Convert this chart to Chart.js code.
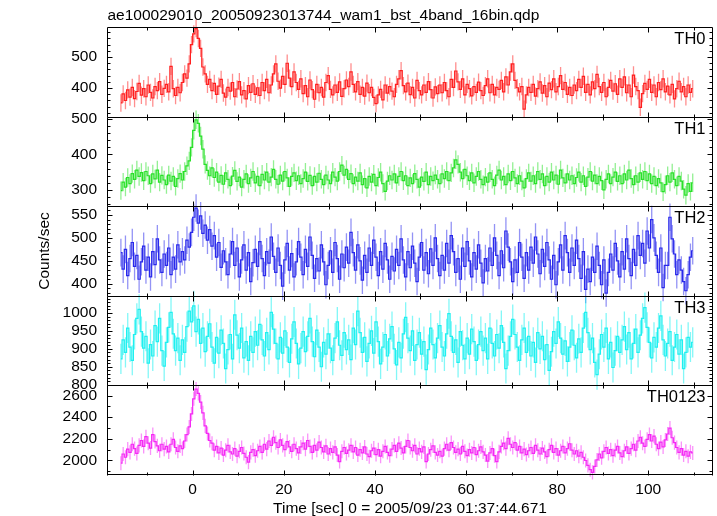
<!DOCTYPE html>
<html>
<head>
<meta charset="utf-8">
<script src="https://cdn.jsdelivr.net/npm/chart.js@4.4.1/dist/chart.umd.min.js"></script>
<style>
  body { margin: 0; background: #fff; }
</style>
</head>
<body>
<canvas id="grafico" width="717" height="516"></canvas>
<script>
// Curva de luz WAM (4 bandas + soma), bins de 0.5 s
const titulo = 'ae100029010_20050923013744_wam1_bst_4band_16bin.qdp';
const tituloX = 'Time [sec] 0 = 2005/09/23 01:37:44.671';
const tituloY = 'Counts/sec';
const nomes = ['TH0', 'TH1', 'TH2', 'TH3', 'TH0123'];

// centro do primeiro bin e largura do bin (s)
const tempoInicio = -15.75;
const larguraBin = 0.5;

const th0 = [
  352, 381, 360, 394, 371, 402, 366, 389, 415, 377, 398, 372, 410, 386, 368, 405, 392, 421, 380, 399,
  412, 388, 470, 398, 376, 402, 385, 418, 446, 432, 478, 540, 575, 592, 560, 528, 468, 446, 412, 428,
  392, 415, 380, 406, 428, 384, 371, 402, 390, 418, 372, 397, 421, 378, 392, 365, 408, 386, 414, 380,
  401, 376, 418, 392, 428, 385, 410, 446, 478, 422, 400, 438, 412, 480, 432, 405, 452, 418, 396, 430,
  382, 408, 372, 426, 395, 364, 412, 385, 402, 371, 418, 440, 396, 378, 410, 386, 420, 373, 398, 426,
  405, 452, 412, 388, 421, 380, 402, 374, 416, 385, 402, 370, 350, 378, 396, 362, 410, 384, 405, 390,
  372, 412, 430, 456, 408, 388, 416, 379, 402, 368, 425, 392, 378, 410, 386, 421, 395, 368, 404, 382,
  410, 385, 418, 392, 372, 428, 402, 455, 420, 396, 430, 378, 412, 398, 375, 405, 386, 419, 392, 376,
  408, 430, 385, 412, 378, 402, 396, 425, 388, 436, 410, 452, 478, 425, 401, 388, 405, 332, 378, 402,
  386, 412, 374, 398, 420, 384, 408, 372, 416, 395, 430, 388, 405, 440, 396, 418, 380, 402, 376, 410,
  392, 428, 402, 438, 386, 412, 378, 420, 398, 444, 405, 386, 418, 372, 402, 425, 390, 414, 380, 430,
  402, 436, 385, 410, 372, 442, 405, 392, 338, 382, 415, 396, 428, 386, 410, 372, 418, 395, 430, 388,
  406, 378, 412, 365, 398, 422, 388, 405, 372, 410, 386, 398
];
const th1 = [
  298, 322, 308, 335, 318, 346, 330, 356, 338, 349, 326, 352, 340, 318, 345, 331, 356, 322, 341, 328,
  315, 342, 325, 338, 310, 332, 346, 328, 352, 368, 382, 420, 468, 498, 488, 452, 415, 372, 355, 340,
  362, 335, 350, 322, 341, 316, 348, 330, 312, 339, 355, 324, 336, 308, 330, 345, 318, 334, 352, 320,
  338, 312, 344, 328, 350, 322, 336, 358, 330, 316, 342, 325, 352, 334, 310, 338, 348, 326, 340, 318,
  332, 350, 324, 341, 312, 338, 322, 347, 330, 315, 342, 328, 318, 350, 336, 325, 352, 370, 342, 358,
  330, 346, 318, 336, 325, 348, 315, 332, 306, 338, 322, 344, 312, 335, 350, 318, 296, 325, 340, 328,
  345, 320, 338, 352, 326, 340, 312, 334, 318, 346, 330, 308, 336, 324, 350, 315, 338, 326, 342, 330,
  318, 345, 332, 352, 326, 348, 362, 385, 372, 350, 332, 358, 340, 326, 348, 320, 338, 352, 330, 315,
  336, 322, 348, 330, 312, 342, 356, 328, 338, 315, 345, 326, 352, 334, 318, 340, 325, 306, 332, 348,
  325, 340, 318, 352, 330, 345, 312, 338, 322, 350, 328, 342, 316, 356, 334, 320, 345, 328, 340, 318,
  335, 350, 322, 340, 310, 336, 352, 325, 342, 318, 338, 326, 300, 330, 345, 318, 336, 350, 324, 340,
  318, 345, 328, 356, 332, 315, 340, 322, 348, 330, 352, 326, 345, 318, 338, 312, 332, 320, 295, 315,
  340, 322, 348, 330, 312, 338, 325, 302, 285, 318, 296, 320
];
const th2 = [
  468, 432, 475, 418, 455, 490, 438, 462, 410, 448, 482, 430, 458, 415, 470, 442, 498, 452, 425, 465,
  440, 478, 420, 458, 432, 485, 448, 470, 452, 495, 480, 512, 545, 565, 532, 548, 510, 528, 495, 518,
  482, 505, 458, 490, 436, 472, 448, 420, 465, 492, 440, 478, 415, 452, 485, 430, 468, 405, 446, 475,
  438, 492, 455, 418, 470, 445, 502, 460, 425, 478, 440, 395, 452, 488, 430, 466, 415, 448, 492, 458,
  420, 475, 438, 502, 462, 412, 455, 428, 485, 448, 398, 440, 472, 425, 490, 455, 410, 465, 435, 480,
  445, 512, 468, 430, 485, 450, 408, 462, 425, 478, 440, 495, 458, 418, 470, 432, 488, 452, 410, 460,
  428, 475, 440, 498, 452, 415, 470, 435, 482, 445, 405, 458, 490, 430, 468, 422, 476, 440, 500, 455,
  418, 462, 430, 488, 445, 505, 470, 425, 455, 410, 478, 438, 492, 450, 415, 468, 432, 485, 445, 402,
  455, 428, 478, 440, 500, 462, 418, 472, 435, 515, 480, 448, 405, 452, 425, 490, 458, 412, 468, 430,
  480, 445, 502, 465, 422, 475, 438, 490, 452, 410, 462, 398, 448, 485, 430, 505, 468, 425, 478, 440,
  495, 455, 412, 470, 388, 432, 405, 458, 425, 482, 440, 398, 452, 380, 425, 465, 430, 488, 450, 415,
  470, 432, 498, 455, 418, 475, 440, 505, 462, 488, 445, 515, 478, 540, 500, 462, 425, 478, 392, 440,
  440, 545, 498, 465, 420, 452, 430, 405, 385, 420, 458, 472
];
const th3 = [
  872, 925, 890, 958, 905, 868, 940, 985, 1010, 948, 902, 935, 860, 912, 880, 965, 920, 985, 895, 852,
  918, 960, 1002, 942, 895, 930, 868, 925, 890, 962, 1005, 975, 1020, 948, 982, 915, 958, 892, 935, 970,
  905, 860, 932, 888, 952, 915, 845, 898, 940, 872, 995, 938, 902, 958, 875, 920, 868, 935, 890, 948,
  910, 968, 925, 880, 945, 898, 1002, 955, 915, 872, 932, 888, 950, 905, 862, 928, 975, 915, 858, 902,
  948, 892, 935, 985, 920, 878, 952, 905, 850, 918, 885, 942, 902, 868, 930, 975, 910, 882, 945, 898,
  925, 870, 958, 912, 1005, 945, 890, 932, 865, 915, 950, 888, 975, 920, 858, 905, 940, 880, 928, 962,
  900, 855, 918, 875, 942, 988, 930, 895, 950, 868, 912, 945, 885, 920, 842, 898, 958, 912, 875, 930,
  965, 905, 880, 942, 998, 935, 890, 925, 862, 948, 910, 872, 930, 885, 955, 920, 868, 912, 948, 895,
  930, 872, 958, 915, 880, 940, 902, 965, 918, 845, 895, 935, 982, 940, 905, 868, 925, 958, 890, 935,
  880, 918, 862, 945, 900, 935, 870, 912, 840, 892, 948, 915, 975, 930, 885, 922, 865, 905, 952, 910,
  875, 928, 890, 958, 1002, 945, 898, 930, 862, 828, 885, 940, 905, 958, 872, 918, 848, 895, 935, 890,
  925, 962, 898, 945, 872, 915, 955, 890, 938, 985, 1015, 960, 918, 875, 932, 905, 958, 992, 925, 880,
  915, 948, 868, 905, 940, 885, 925, 845, 890, 932, 905, 918
];
const th0123 = [
  1975, 2060, 2030, 2105, 2075, 2150, 2110, 2065, 2140, 2185, 2130, 2220, 2160, 2115, 2240, 2175, 2135, 2090, 2150, 2105,
  2130, 2080, 2150, 2195, 2120, 2085, 2135, 2110, 2180, 2240, 2310, 2430, 2570, 2660, 2620, 2540, 2440, 2320, 2250, 2185,
  2160, 2095, 2130, 2070, 2115, 2050, 2095, 2140, 2080, 2060, 2110, 2040, 2085, 2120, 2065, 2030, 1985, 2075, 2100, 2045,
  2090, 2130, 2075, 2150, 2105, 2180, 2140, 2215, 2165, 2120, 2190, 2140, 2100, 2175, 2125, 2085, 2150, 2110, 2070, 2125,
  2160, 2105, 2185, 2130, 2075, 2140, 2095, 2170, 2120, 2080, 2135, 2060, 2110, 2075, 2125, 2050, 1990, 2085, 2120, 2065,
  2095, 2140, 2080, 2120, 2050, 2100, 2070, 2125, 2060, 2035, 2090, 2115, 2055, 2100, 2040, 2085, 2130, 2075, 2045, 2105,
  2140, 2085, 2160, 2115, 2070, 2130, 2185, 2120, 2090, 2140, 2060, 2110, 2080, 2125, 1990, 2060, 2100, 2135, 2075, 2050,
  2085, 2040, 2110, 2150, 2095, 2165, 2120, 2075, 2105, 2060, 2130, 2085, 2045, 2100, 2070, 2120, 2055, 2090, 2125, 2080,
  2050, 1995, 2070, 2110, 2045, 1990, 2080, 2130, 2160, 2110, 2205, 2150, 2120, 2165, 2095, 2130, 2070, 2105, 2055, 2090,
  2120, 2065, 2140, 2095, 2060, 2115, 2080, 2035, 2100, 2140, 2075, 2110, 2050, 2090, 2130, 2070, 2110, 2155, 2095, 2060,
  2090, 2040, 2075, 2030, 2000, 1955, 1915, 1890, 1945, 2005, 2060, 2025, 2085, 2120, 2065, 2100, 2045, 2095, 2130, 2070,
  2035, 2090, 2125, 2065, 2110, 2150, 2095, 2180, 2215, 2160, 2130, 2195, 2240, 2180, 2225, 2150, 2110, 2170, 2125, 2190,
  2245, 2300, 2210, 2165, 2120, 2075, 2110, 2050, 2085, 2040, 2080, 2070
];
const series = [th0, th1, th2, th3, th0123];

// barras de erro (counts/sec) de cada banda
const erros = [28, 26, 30, 42, 65];

// marcas dos eixos
const ticksX = [0, 20, 40, 60, 80, 100];
const ticksY = [
  [400, 500],
  [300, 400, 500],
  [400, 450, 500, 550],
  [800, 850, 900, 950, 1000],
  [2000, 2200, 2400, 2600]
];

const limitesY = [[308, 597], [254, 507], [374, 569], [798, 1048], [1866, 2694]];
const menoresY = [20, 20, 10, 10, 100];
const cores = ['rgb(255,30,30)', 'rgb(40,225,40)', 'rgb(40,40,235)', 'rgb(30,240,240)', 'rgb(245,40,245)'];
const coresErro = ['rgba(255,30,30,0.5)', 'rgba(40,225,40,0.5)', 'rgba(40,40,235,0.5)', 'rgba(30,240,240,0.55)', 'rgba(245,40,245,0.5)'];
const fonte = '"Liberation Sans", Arial, Helvetica, sans-serif';

const conjuntos = nomes.map((nome, i) => ({
  label: nome,
  data: series[i].map((v, k) => ({ x: tempoInicio + k * larguraBin, y: v })),
  yAxisID: 'y' + i,
  borderColor: cores[i],
  borderWidth: 1.2,
  stepped: 'middle',
  pointRadius: 0,
  clip: false
}));

// eixos y empilhados (o último declarado fica em cima)
const escalas = {
  x: {
    type: 'linear',
    min: -18.8,
    max: 114.2,
    afterBuildTicks: s => { s.ticks = ticksX.map(v => ({ value: v })); },
    afterFit: s => { s.height = 41; },
    ticks: { color: '#000', font: { family: fonte, size: 15.5 }, padding: 5, maxRotation: 0, autoSkip: false, callback: v => String(v) },
    grid: { display: false, drawTicks: false },
    border: { display: false },
    title: { display: true, text: tituloX, color: '#000', font: { family: fonte, size: 15.5, lineHeight: 1 }, padding: 0 }
  }
};
for (let i = nomes.length - 1; i >= 0; i--) {
  escalas['y' + i] = {
    type: 'linear',
    position: 'left',
    stack: 'paineis',
    stackWeight: 1,
    min: limitesY[i][0],
    max: limitesY[i][1],
    afterBuildTicks: s => { s.ticks = ticksY[i].map(v => ({ value: v })); },
    afterFit: s => { s.width = 107; },
    ticks: { color: '#000', font: { family: fonte, size: 15.5 }, padding: 10, autoSkip: false, callback: v => String(v) },
    grid: { display: false, drawTicks: false },
    border: { display: false },
    title: {
      display: i === 2,
      text: tituloY,
      color: '#000',
      font: { family: fonte, size: 15.5, lineHeight: 1 },
      padding: { top: 37, bottom: 0 }
    }
  };
}

// barras de erro verticais
const barrasErro = {
  id: 'barrasErro',
  beforeDatasetsDraw(chart) {
    const ctx = chart.ctx;
    const xs = chart.scales.x;
    ctx.save();
    ctx.lineWidth = 1.3;
    chart.data.datasets.forEach((ds, i) => {
      const ys = chart.scales[ds.yAxisID];
      ctx.strokeStyle = coresErro[i];
      ctx.beginPath();
      ds.data.forEach(p => {
        const px = xs.getPixelForValue(p.x);
        ctx.moveTo(px, ys.getPixelForValue(p.y - erros[i]));
        ctx.lineTo(px, ys.getPixelForValue(p.y + erros[i]));
      });
      ctx.stroke();
    });
    ctx.restore();
  }
};

// moldura, marcas internas e textos
const moldura = {
  id: 'moldura',
  afterDraw(chart) {
    const ctx = chart.ctx;
    const { left, right, top, bottom } = chart.chartArea;
    const xs = chart.scales.x;
    ctx.save();
    ctx.strokeStyle = '#000';
    ctx.lineWidth = 1;
    const linha = (x1, y1, x2, y2) => { ctx.beginPath(); ctx.moveTo(x1, y1); ctx.lineTo(x2, y2); ctx.stroke(); };
    const L = Math.round(left) + 0.5, R = Math.round(right) - 0.5;
    nomes.forEach((nome, i) => {
      const ys = chart.scales['y' + i];
      const yt = Math.round(ys.top) + 0.5, yb = Math.round(ys.bottom) + 0.5;
      linha(L, yt, R, yt);
      linha(L, yt, L, yb);
      linha(R, yt, R, yb);
      const menor = menoresY[i];
      const maior = ticksY[i][1] - ticksY[i][0];
      for (let v = Math.ceil(ys.min / menor) * menor; v <= ys.max; v += menor) {
        const yy = Math.round(ys.getPixelForValue(v)) + 0.5;
        const c = v % maior === 0 ? 5 : 3;
        linha(L, yy, L + c, yy);
        linha(R, yy, R - c, yy);
      }
      for (let t = -10; t <= 110; t += 10) {
        const xx = Math.round(xs.getPixelForValue(t)) + 0.5;
        const c = t % 20 === 0 ? 5 : 3;
        linha(xx, yt, xx, yt + c);
        linha(xx, yb, xx, yb - c);
      }
      ctx.fillStyle = '#000';
      ctx.font = '16.5px ' + fonte;
      ctx.textAlign = 'right';
      ctx.textBaseline = 'alphabetic';
      ctx.fillText(nome, R - 7, ys.top + 17);
    });
    linha(L, Math.round(bottom) - 0.5, R, Math.round(bottom) - 0.5);
    ctx.font = '15.5px ' + fonte;
    ctx.textAlign = 'left';
    ctx.fillText(titulo, L, 20);
    ctx.restore();
  }
};

new Chart(document.getElementById('grafico'), {
  type: 'line',
  data: { datasets: conjuntos },
  options: {
    responsive: false,
    animation: false,
    devicePixelRatio: 1,
    layout: { padding: { top: 27, right: 4, bottom: 0, left: 0 } },
    plugins: { legend: { display: false }, tooltip: { enabled: false } },
    scales: escalas
  },
  plugins: [barrasErro, moldura]
});
</script>
</body>
</html>
